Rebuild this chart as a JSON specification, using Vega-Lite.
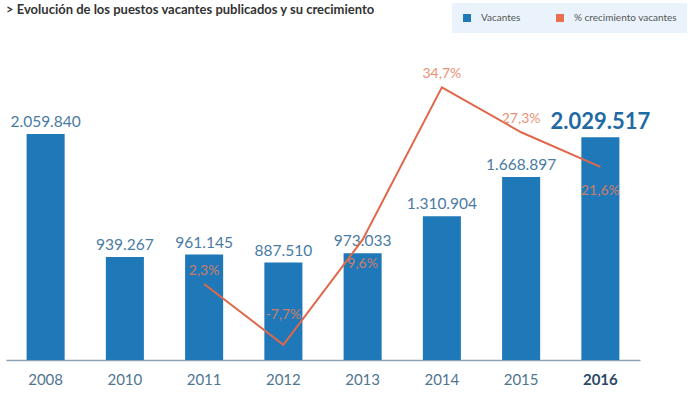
{
  "$schema": "https://vega.github.io/schema/vega-lite/v6.json",
  "width": 634,
  "height": 300,
  "autosize": "none",
  "padding": {"left": 6, "top": 60, "right": 60, "bottom": 37},
  "config": {
    "locale": {"number": {"decimal": ",", "thousands": ".", "grouping": [3], "currency": ["", " €"], "minus": "-"}},
    "view": {"stroke": null},
    "font": "Lato"
  },
  "title": {
    "text": "> Evolución de los puestos vacantes publicados y su crecimiento",
    "anchor": "start",
    "frame": "group",
    "fontSize": 13,
    "fontWeight": "bold",
    "color": "#333333",
    "offset": 0,
    "dy": 14
  },
  "data": {
    "values": [
      {"year": "2008", "vacantes": 2059840, "pct": null},
      {"year": "2010", "vacantes": 939267, "pct": null},
      {"year": "2011", "vacantes": 961145, "pct": 0.023},
      {"year": "2012", "vacantes": 887510, "pct": -0.077},
      {"year": "2013", "vacantes": 973033, "pct": 0.096},
      {"year": "2014", "vacantes": 1310904, "pct": 0.347},
      {"year": "2015", "vacantes": 1668897, "pct": 0.273},
      {"year": "2016", "vacantes": 2029517, "pct": 0.216}
    ]
  },
  "encoding": {
    "x": {
      "field": "year",
      "type": "ordinal",
      "scale": {"paddingInner": 0.52, "paddingOuter": 0.26},
      "axis": {
        "title": null,
        "labelAngle": 0,
        "ticks": false,
        "domainColor": "#8fa3b3",
        "domainWidth": 1.5,
        "labelPadding": 12,
        "labelFontSize": 15,
        "labelColor": {"condition": {"test": "datum.value == '2016'", "value": "#2b4a66"}, "value": "#4f7590"},
        "labelFontWeight": {"condition": {"test": "datum.value == '2016'", "value": "bold"}, "value": "normal"}
      }
    }
  },
  "layer": [
    {
      "encoding": {
        "y": {"field": "vacantes", "type": "quantitative", "scale": {"domain": [0, 2734300]}, "axis": null}
      },
      "layer": [
        {
          "mark": {"type": "bar"},
          "encoding": {
            "color": {
              "datum": "Vacantes",
              "scale": {"domain": ["Vacantes", "% crecimiento vacantes"], "range": ["#1f78b8", "#e8704c"]},
              "legend": {
                "title": null,
                "orient": "none",
                "legendX": 446,
                "legendY": -57,
                "direction": "horizontal",
                "fillColor": "#eaf3fb",
                "padding": 10,
                "symbolType": "square",
                "symbolSize": 64,
                "symbolOpacity": 1,
                "labelFontSize": 10,
                "labelColor": "#555555",
                "columnPadding": 34,
                "labelOffset": 9
              }
            }
          }
        },
        {
          "transform": [{"filter": "datum.year != '2016'"}],
          "mark": {"type": "text", "dy": -7, "baseline": "alphabetic", "fontSize": 15.5, "color": "#4a7ba3"},
          "encoding": {"text": {"field": "vacantes", "type": "quantitative", "format": ",d"}}
        },
        {
          "transform": [{"filter": "datum.year == '2016'"}],
          "mark": {"type": "text", "dy": -8, "baseline": "alphabetic", "fontSize": 22, "fontWeight": "bold", "color": "#1f6aa5"},
          "encoding": {"text": {"field": "vacantes", "type": "quantitative", "format": ",d"}}
        }
      ]
    },
    {
      "transform": [{"filter": "datum.pct != null"}],
      "encoding": {
        "y": {"field": "pct", "type": "quantitative", "scale": {"domain": [-0.1021, 0.392]}, "axis": null}
      },
      "layer": [
        {
          "mark": {"type": "line", "color": "#e0684a", "strokeWidth": 2},
          "encoding": {}
        },
        {
          "transform": [{"filter": "datum.year == '2011' || datum.year == '2014' || datum.year == '2015'"}],
          "mark": {"type": "text", "dy": -13, "fontSize": 14, "color": "#e8805c", "opacity": 0.85},
          "encoding": {"text": {"field": "pct", "type": "quantitative", "format": ".1%"}}
        },
        {
          "transform": [{"filter": "datum.year == '2012'"}],
          "mark": {"type": "text", "dy": -30, "fontSize": 14, "color": "#e8805c", "opacity": 0.85},
          "encoding": {"text": {"field": "pct", "type": "quantitative", "format": ".1%"}}
        },
        {
          "transform": [{"filter": "datum.year == '2013' || datum.year == '2016'"}],
          "mark": {"type": "text", "dy": 24, "fontSize": 14, "color": "#e8805c", "opacity": 0.85},
          "encoding": {"text": {"field": "pct", "type": "quantitative", "format": ".1%"}}
        }
      ]
    }
  ],
  "resolve": {"scale": {"y": "independent"}}
}
